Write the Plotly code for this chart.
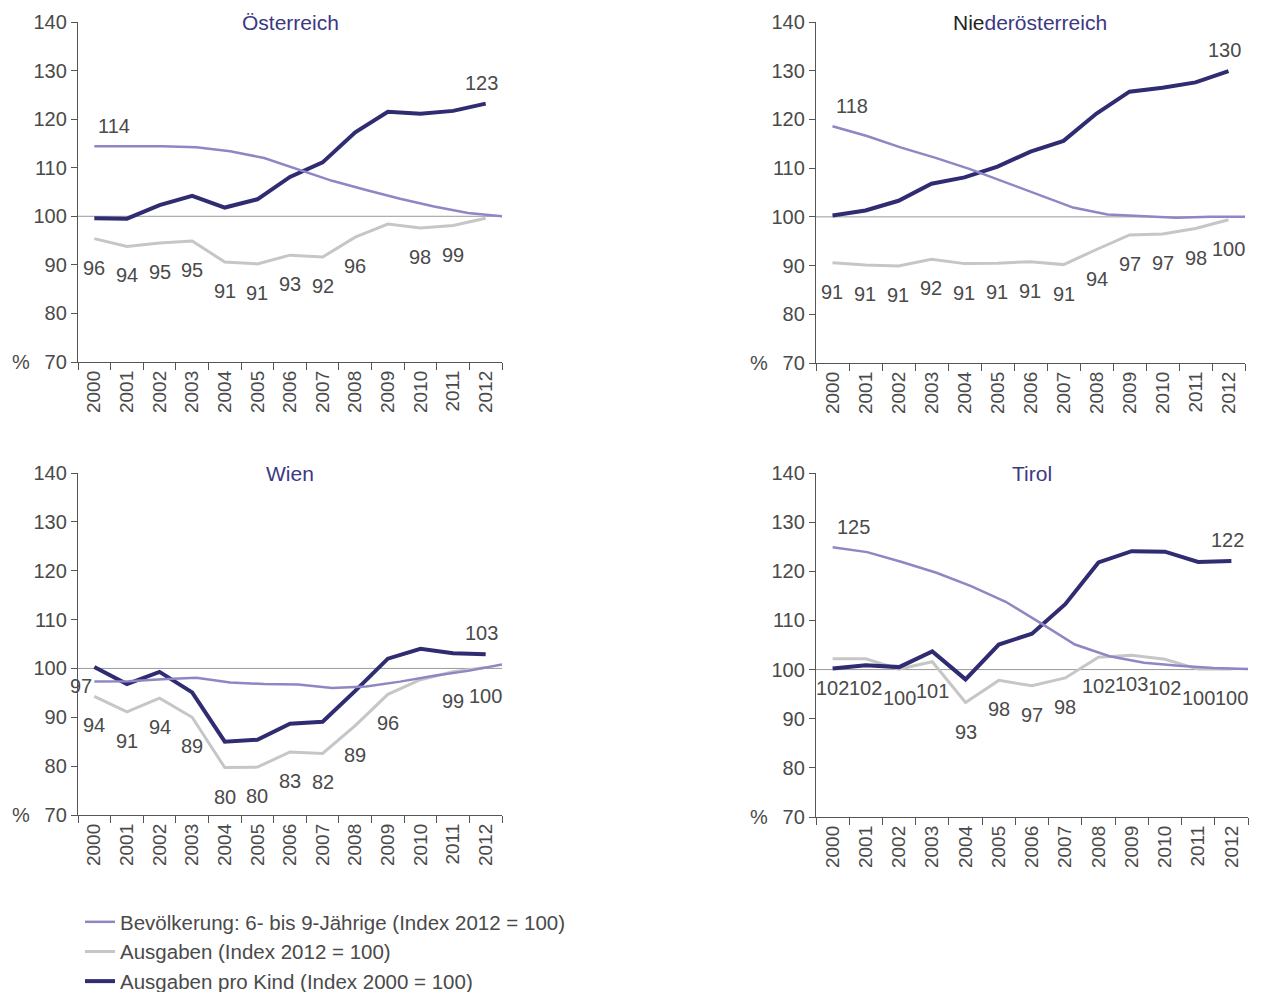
import plotly.graph_objects as go

W, H = 1263, 992
OFF = 8  # Seitenrand des Browsers

years = [str(y) for y in range(2000, 2013)]
years_num = list(range(2000, 2013))

# ── Daten ───────────────────────────────────────────────
# Österreich
oe_bev = [114.4, 114.4, 114.4, 114.2, 113.4, 112.0, 109.7, 107.3, 105.4, 103.6, 102.0, 100.7, 100.0]
oe_aus = [95.4, 93.8, 94.5, 94.9, 90.6, 90.2, 92.0, 91.6, 95.7, 98.4, 97.6, 98.1, 99.6]
oe_kind = [99.6, 99.5, 102.3, 104.2, 101.8, 103.5, 108.1, 111.1, 117.3, 121.5, 121.1, 121.7, 123.2]
oe_aus_lbl = ["96", "94", "95", "95", "91", "91", "93", "92", "96", "", "98", "99", ""]

# Niederösterreich
noe_bev = [118.6, 116.6, 114.2, 112.1, 109.8, 107.2, 104.5, 101.9, 100.5, 100.2, 99.8, 100.0, 100.0]
noe_aus = [90.6, 90.1, 89.9, 91.3, 90.4, 90.5, 90.8, 90.2, 93.3, 96.3, 96.5, 97.6, 99.4]
noe_kind = [100.3, 101.3, 103.3, 106.8, 108.1, 110.3, 113.4, 115.6, 121.2, 125.7, 126.5, 127.6, 129.9]
noe_aus_lbl = ["91", "91", "91", "92", "91", "91", "91", "91", "94", "97", "97", "98", "100"]

# Wien
wi_bev = [97.3, 97.4, 97.8, 98.1, 97.1, 96.8, 96.7, 96.0, 96.3, 97.3, 98.5, 99.5, 100.8]
wi_aus = [94.3, 91.1, 93.9, 90.0, 79.7, 79.8, 82.9, 82.6, 88.3, 94.7, 97.7, 99.3, 100.2]
wi_kind = [100.3, 96.8, 99.3, 95.1, 85.0, 85.4, 88.7, 89.1, 95.4, 102.0, 104.0, 103.1, 102.9]
wi_aus_lbl = ["94", "91", "94", "89", "80", "80", "83", "82", "89", "96", "", "99", "100"]

# Tirol
ti_bev = [124.9, 123.9, 121.9, 119.7, 117.0, 113.8, 109.5, 105.1, 102.7, 101.4, 100.8, 100.3, 100.1]
ti_aus = [102.2, 102.2, 100.1, 101.6, 93.3, 97.8, 96.7, 98.3, 102.5, 102.9, 102.1, 100.1, 100.1]
ti_kind = [100.2, 100.9, 100.5, 103.7, 98.0, 105.1, 107.3, 113.3, 121.8, 124.1, 124.0, 121.9, 122.1]
ti_aus_lbl = ["102", "102", "100", "101", "93", "98", "97", "98", "102", "103", "102", "100", "100"]

panels = [
    ("Österreich", oe_bev, oe_aus, oe_kind, oe_aus_lbl, "114", "123", "above"),
    ("<span style='color:#222'>Nie</span>derösterreich", noe_bev, noe_aus, noe_kind, noe_aus_lbl, "118", "130", "above"),
    ("Wien", wi_bev, wi_aus, wi_kind, wi_aus_lbl, "97", "103", "left"),
    ("Tirol", ti_bev, ti_aus, ti_kind, ti_aus_lbl, "125", "122", "above"),
]

names = [
    "Bevölkerung: 6- bis 9-Jährige (Index 2012 = 100)",
    "Ausgaben (Index 2012 = 100)",
    "Ausgaben pro Kind (Index 2000 = 100)",
]

C_BEV = "#8f86c3"
C_AUS = "#c6c6c6"
C_KIND = "#2f2c72"
C_TXT = "#4a4a4a"
C_TITLE = "#3c3883"
FONT = "Liberation Sans, Arial, sans-serif"
FS = 20

# Plotbereiche in Pixeln (links, rechts, oben=140, unten=70)
boxes = [
    (78, 502, 22, 362),
    (816, 1245, 22, 363),
    (78, 502, 473, 815),
    (816, 1248, 473, 817),
]

fig = go.Figure()
layout = dict()
annotations = []
shapes = []

for i, (title, bev, aus, kind, aus_lbl, bev_lbl, kind_lbl, bev_pos) in enumerate(panels):
    k = i + 1
    ko = k + 4
    sk = "" if k == 1 else str(k)
    x0, x1, yt, yb = boxes[i]
    xdom = [(x0 - OFF) / W, (x1 - OFF) / W]
    ydom = [1 - (yb - OFF) / H, 1 - (yt - OFF) / H]
    xa, ya, xo = f"x{sk}", f"y{sk}", f"x{ko}"
    show = i == 0

    fig.add_trace(go.Scatter(
        x=years, y=aus, mode="lines", name=names[1], legendrank=2,
        line=dict(color=C_AUS, width=3), xaxis=xa, yaxis=ya, showlegend=show))
    fig.add_trace(go.Scatter(
        x=years_num, y=bev, mode="lines", name=names[0], legendrank=1,
        line=dict(color=C_BEV, width=2.5), xaxis=xo, yaxis=ya, showlegend=show))
    fig.add_trace(go.Scatter(
        x=years, y=kind, mode="lines", name=names[2], legendrank=3,
        line=dict(color=C_KIND, width=4), xaxis=xa, yaxis=ya, showlegend=show))

    layout[f"xaxis{sk}"] = dict(
        domain=xdom, anchor=ya, type="category", range=[-0.5, 12.5],
        tickson="boundaries", ticks="outside", ticklen=7, tickcolor="#555",
        showline=True, linecolor="#555", linewidth=1.3, showgrid=False,
        tickangle=-90, tickfont=dict(size=19, color=C_TXT, family=FONT),
        zeroline=False, automargin=False)
    # Bevölkerungslinie in Excel gestreckt bis zum rechten Rand
    layout[f"xaxis{ko}"] = dict(
        domain=xdom, anchor=ya, overlaying=xa, type="linear",
        range=[2000 - 0.48, 2012], visible=False, showgrid=False, zeroline=False,
        automargin=False)
    layout[f"yaxis{sk}"] = dict(
        domain=ydom, anchor=xa, range=[70, 140], dtick=10, tick0=70,
        ticks="outside", ticklen=6, tickcolor="#555",
        showline=True, linecolor="#555", linewidth=1.3, showgrid=False,
        zeroline=False, automargin=False, tickfont=dict(size=FS, color=C_TXT, family=FONT))

    # 100-Linie
    shapes.append(dict(type="line", xref=f"{xa} domain", yref=ya, x0=0, x1=1, y0=100, y1=100,
                       line=dict(color="#9a9a9a", width=1), layer="below"))

    # Titel
    annotations.append(dict(text=title, xref=f"{xa} domain", yref=f"{ya} domain", x=0.5, y=1,
                            xanchor="center", yanchor="middle", showarrow=False,
                            font=dict(size=21, color=C_TITLE, family=FONT)))
    # %
    annotations.append(dict(text="%", xref=f"{xa} domain", yref=ya, x=0, y=70, xshift=-68,
                            xanchor="left", showarrow=False,
                            font=dict(size=FS, color=C_TXT, family=FONT)))

    # Beschriftungen Ausgaben (Kategorie-Index j)
    for j, (v, t) in enumerate(zip(aus, aus_lbl)):
        if t:
            annotations.append(dict(text=t, xref=xa, yref=ya, x=j, y=v, yshift=-29,
                                    showarrow=False, font=dict(size=FS, color=C_TXT, family=FONT)))
    # Beschriftung Bevölkerung (Start)
    if bev_pos == "left":
        annotations.append(dict(text=bev_lbl, xref=xa, yref=ya, x=0, y=bev[0], xanchor="right",
                                xshift=0, yshift=-4, showarrow=False,
                                font=dict(size=FS, color=C_TXT, family=FONT)))
    else:
        annotations.append(dict(text=bev_lbl, xref=xa, yref=ya, x=0, y=bev[0], xanchor="left",
                                xshift=2, yshift=20, showarrow=False,
                                font=dict(size=FS, color=C_TXT, family=FONT)))
    # Beschriftung Ausgaben pro Kind (Ende)
    annotations.append(dict(text=kind_lbl, xref=xa, yref=ya, x=len(years) - 1, y=kind[-1], yshift=21,
                            xshift=-4, showarrow=False, font=dict(size=FS, color=C_TXT, family=FONT)))

fig.update_layout(
    **layout,
    width=W, height=H,
    margin=dict(l=0, r=0, t=0, b=0, autoexpand=False),
    paper_bgcolor="white", plot_bgcolor="white",
    font=dict(family=FONT, color=C_TXT),
    annotations=annotations,
    shapes=shapes,
    showlegend=True,
    legend=dict(x=72 / W, y=1 - 894 / H, xanchor="left", yanchor="top",
                font=dict(size=20.5, color=C_TXT, family=FONT),
                bgcolor="rgba(0,0,0,0)", tracegroupgap=0, itemwidth=30),
)

fig.write_html("out.html")
